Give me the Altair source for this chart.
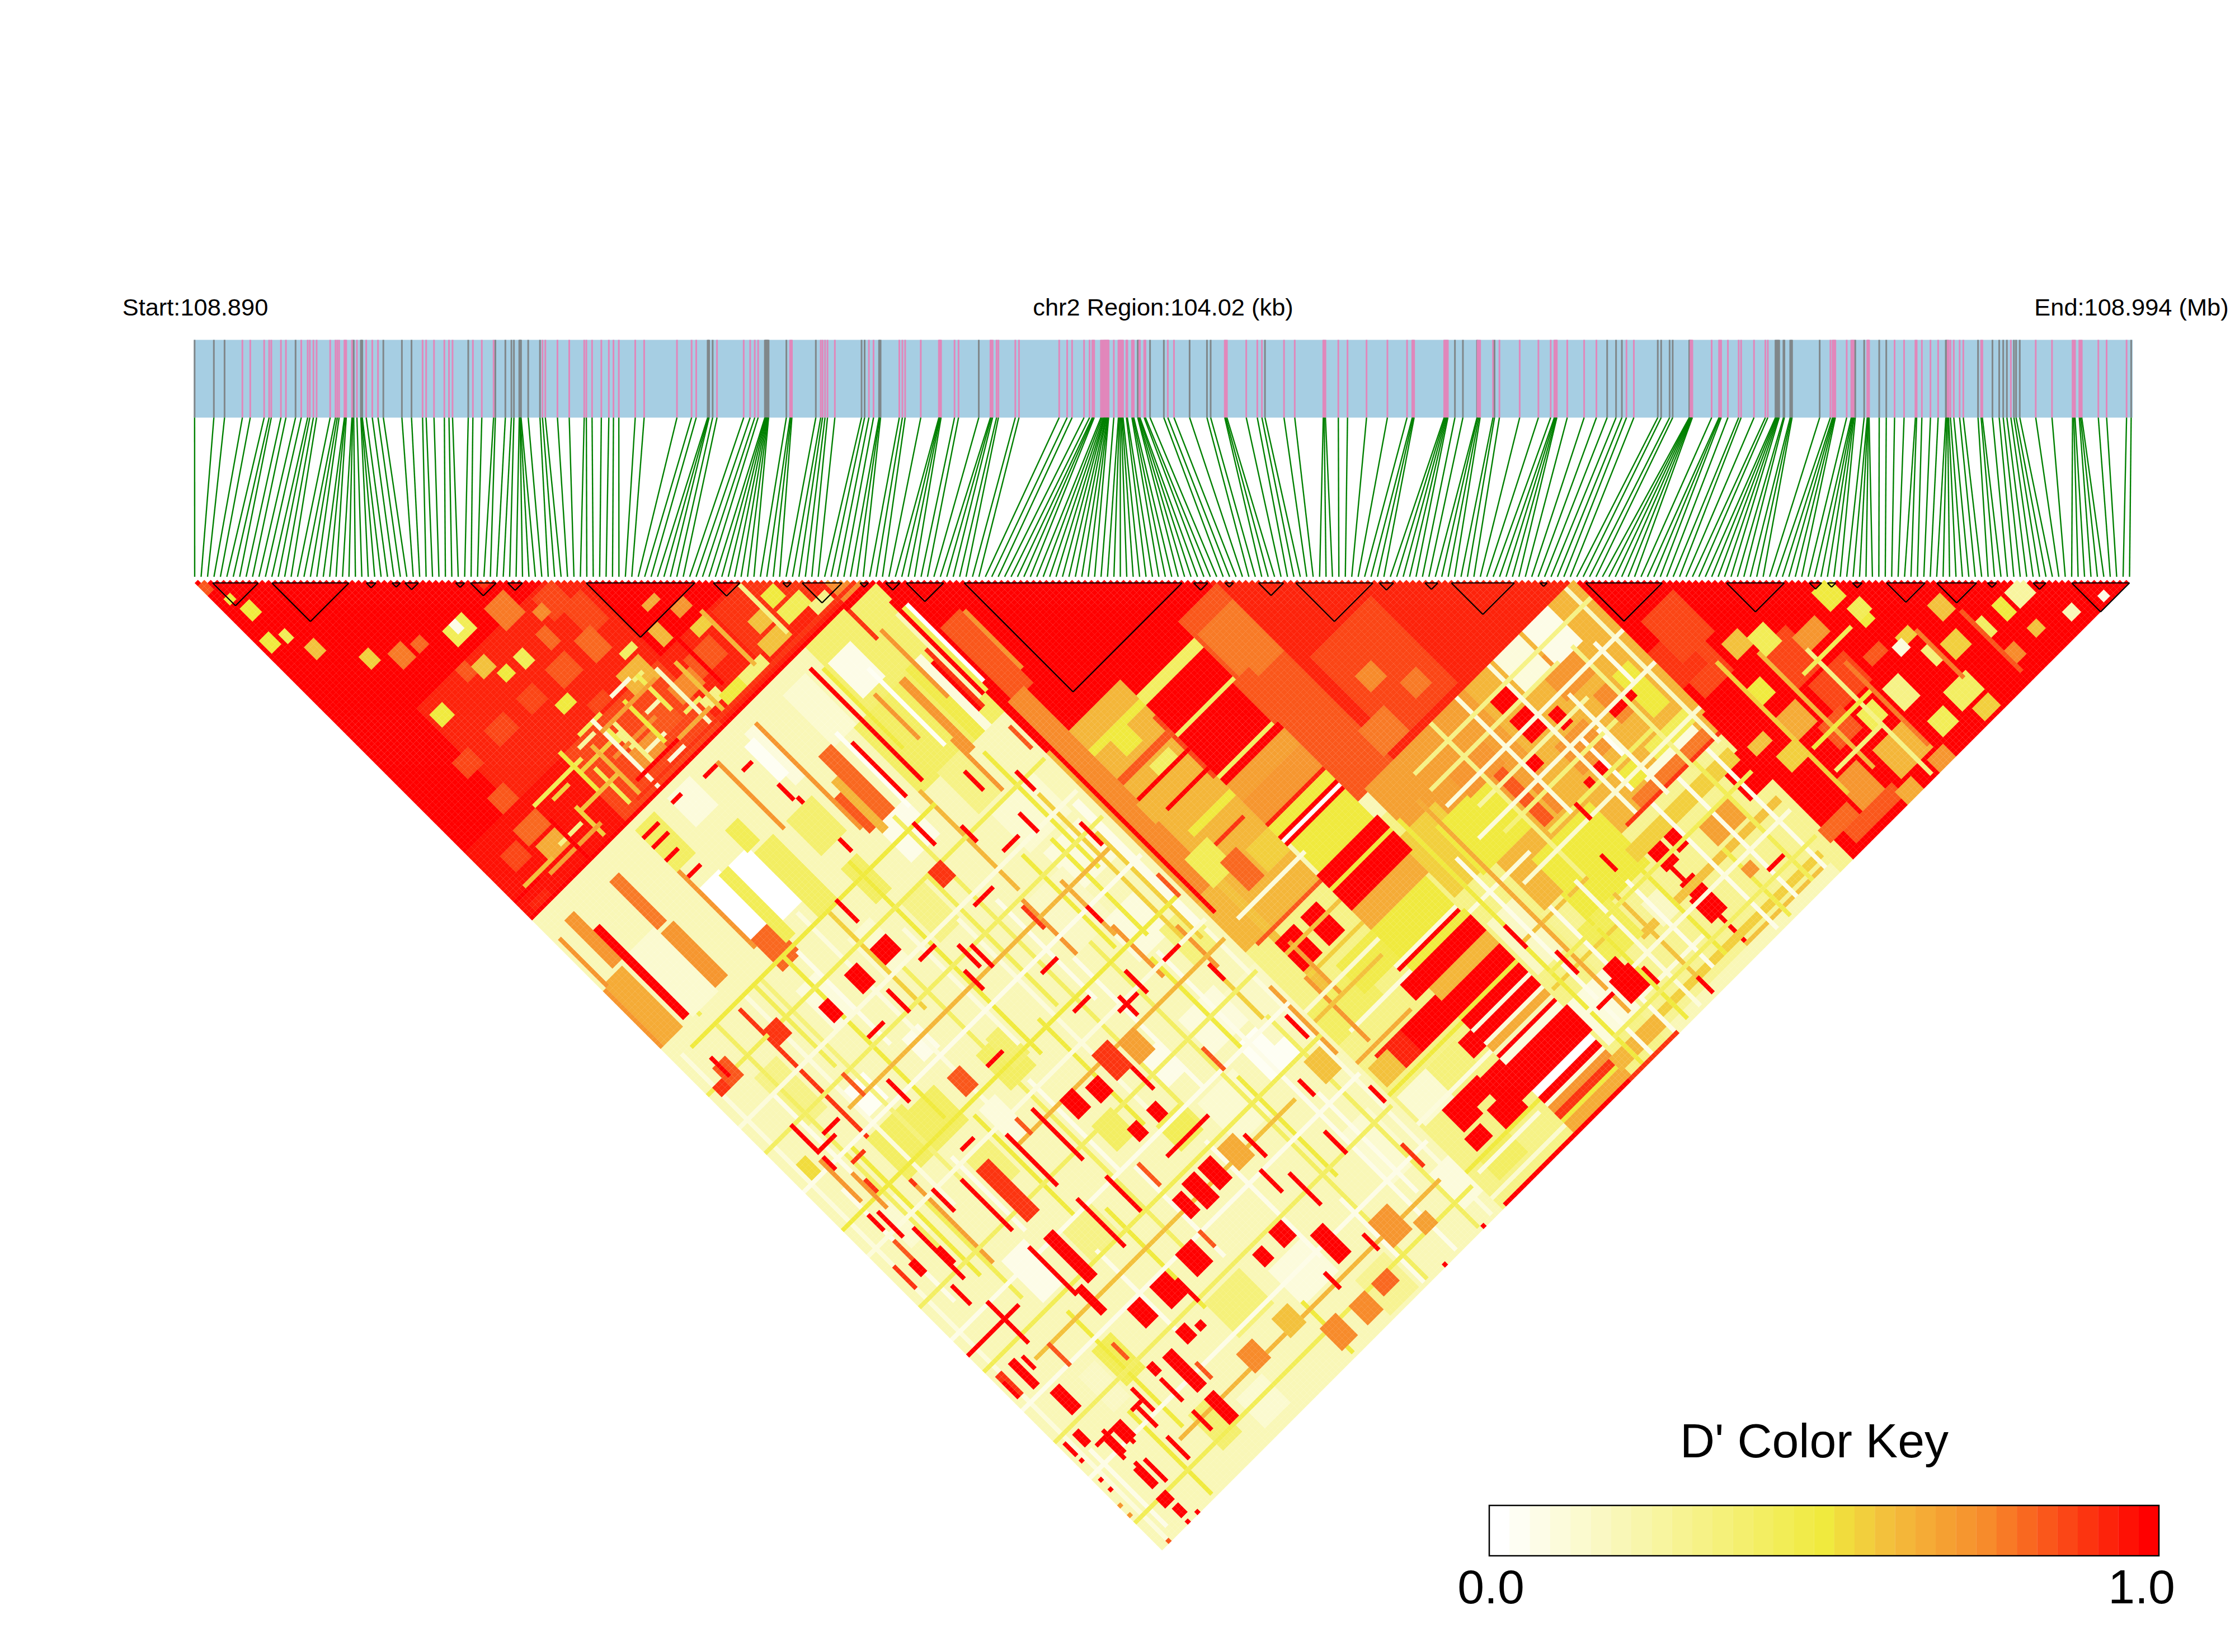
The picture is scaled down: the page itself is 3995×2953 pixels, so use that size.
import numpy as np
import pandas as pd
import altair as alt

z4_grey=[75,129,159,358,521,541,543,545,604,656,683,842,918,946,963,970,985,987,988,990,1010,1043,1513,1515,1517,1527]
z4_pink=[209,231,270,284,290,317,331,374,392,398,408,417,455,470,475,480,495,497,500,516,518,530,556,573,589,714,724,746,775,788,798,855,880,913,1050,1058,1092,1125,1167,1173,1189,1215,1236,1249,1264,1310,1335,1427,1468,1481]
z5_grey=[159,161,163,165,167,169,171,229,325,474,484,531,533,536,856,1374,1376,1414,1459,1543]
z5_pink=[3,90,111,126,137,241,244,247,341,347,355,363,387,498,513,597,607,616,667,726,728,730,733,777,790,894,897,901,914,920,975,987,1118,1144,1160,1199,1217,1226,1229,1232,1254,1258,1262,1265,1267,1270,1272,1275,1277,1279,1296,1311,1314,1317,1320,1323,1326,1337,1340,1355,1358,1361,1379,1381,1395,1399,1472,1492]
z6_grey=[50,62,239,858,884,930,987,1354,1383,1402,1519,1530]
z6_pink=[108,111,115,178,214,229,301,336,429,432,436,478,508,570,638,702,719,722,725,823,826,829,832,835,932,936,940,982,1003,1069,1130,1170,1182,1185,1188,1190,1224,1279,1319,1417,1441]
z7_grey=[8,18,72,74,353,356,359,362,365,379,382,401,404,407,497,613,642,691,714,908,911,1013,1060,1082,1095,1107,1130,1137,1149,1512]
z7_pink=[76,78,80,82,145,169,172,176,198,233,241,283,320,328,532,539,542,545,548,585,600,603,606,609,652,654,656,658,741,772,809,813,830,858,883,914,917,923,934,953,965,1023,1027,1120,1201,1254,1321,1325,1329,1343,1347,1351,1405,1432,1497]

# ---- LD blocks (first and last marker of each outlined triangle)
block_start=[2.8,12,26.7,30.7,32.7,40.6,42.9,48.7,60.9,80.7,91.5,94.5,103.5,107.5,110.7,119.7,155.4,160.3,165.5,171.3,184.3,191.4,195.5,209.3,216.4,238.3,251.2,254,257.9,263.2,271,278.9,286,292]
block_end=[9.9,24,28.2,32,34.8,42,46.9,51,77.8,84.8,92.8,100.7,104.8,109.7,116.5,153.6,157.6,161.6,169.4,183.3,186.5,193.4,205.3,210.4,228.3,247.3,253.1,255.3,259.4,269.2,277.2,280.3,288,301]

# ---- D' matrix, as regions (i0,i1,j0,j1,value), painted in order
base_regions=[
(0,301,0,301,.2),(0,105,0,105,1),(214,301,214,301,1),(106,158,106,160,1),(158,214,158,215,.95),
(106,128,160,222,.62),(146,158,160,215,.84),(158,214,215,262,.62),(106,158,222,301,.3),(158,214,262,301,.27),
(165,182,252,270,.5),(80,105,126,146,.4),(85,105,106,125,.36),(129,146,160,205,.72),(150,180,215,240,.68),
(147,158,228,245,.55),(155,170,232,246,.5),(15,60,55,85,.95),(0,30,85,104,.97),(30,60,85,104,.86),(60,105,85,105,.93),
]
mottle_regions=[
(31,36,47,51,.45),(33,34,47,49,.05),(41,46,50,56,.78),(50,55,56,62,.88),(53,58,62,70,.88),(50,54,69,75,.8),
(41,46,69,74,.85),(32,36,69,73,.88),(22,27,69,73,.86),(12,16,69,73,.86),(12,16,80,84,.85),(11,17,89,93,.8),
(12,17,95,99,.66),(5,9,91,95,.88),(41,47,95,99,.72),(51,57,81,87,.62),(64,71,89,94,.84),(57,63,91,95,.76),
(49,54,91,97,.84),(42,46,81,83,.88),(76,94,86,99,.9),(80,83,93,96,.6),(86,89,91,94,.5),(70,73,79,81,.72),
(70,73,85,87,.55),(63,65,79,83,.62),(1,3,20,23,.5),(3,5,12,15,.5),(5,6,22,24,.45),(7,9,28,31,.6),(0,1,2,4,.85),
(2,3,8,9,.5),(14,16,38,41,.55),(19,22,42,46,.78),(24,26,44,46,.8),(30,33,57,60,.6),(33,35,62,64,.5),(38,40,62,65,.45),
(48,50,58,60,.75),(45,47,62,66,.8),(37,40,76,78,.5),(16,19,58,61,.5),(27,29,55,58,.85),(40,41,88,91,.45),(42,43,90,94,.3),
(47,52,83,83,.08),(53,55,84,84,.35),(55,58,78,79,.4),(50,53,91,91,.2),(44,49,97,97,.15),(56,60,97,97,.4),(34,38,86,86,.25),
(28,32,88,88,.45),(22,26,90,90,.55),(16,22,98,98,.3),(36,42,103,103,.35),(46,50,102,103,.1),(52,58,103,103,.2),
(60,64,98,100,.3),(64,70,100,102,.5),(70,76,100,103,.35),(78,84,98,101,.6),(86,92,96,99,.45),(92,96,100,103,.3),(96,100,92,95,.5),
(98,104,98,104,.75),(90,94,90,92,.95),(72,76,70,72,.85),(66,69,74,75,.65),
(36,42,84,84,.45),(38,50,93,93,.75),(30,40,90,90,.55),(18,30,88,88,.45),(30,30,84,95,.5),(33,33,92,102,.45),(43,43,88,100,.3),(48,48,86,98,.5),(54,54,84,94,.45),(66,66,84,98,1),
(24,24,95,103,.55),(36,36,88,102,.62),(40,40,84,104,.08),(58,58,86,102,.15),(62,62,88,102,.6),(74,74,84,100,.62),(84,84,86,100,.3),(50,60,100,100,.65),(40,56,87,87,.7),(25,35,96,96,.6),(10,25,101,101,.7),(4,12,99,99,.6),
(90,100,62,62,.8),(80,86,64,66,.85),(68,76,58,60,.88),(58,62,50,54,.9),(44,50,44,46,.9),(86,92,76,78,.78),(94,100,80,82,.72),(82,84,70,74,.6),
]
# long i-lines and j-lines, reds and oranges (dominant stripes of the plaid)
stripes=[
(0,1,128,146,.72),(1,6,127,146,.66),(8,9,117,144,1),(5,7,111,125,.72),(1,1,113,127,.72),(18,20,112,126,.78),(18,21,128,144,.72),
(10,11,128,146,.45),(60,60,128,144,1),(82,82,110,144,1),(70,73,125,145,.82),(65,65,110,142,.72),(66,67,134,144,.85),(77,77,128,144,1),
(53,53,110,130,.72),(30,30,110,144,.72),(31,36,143,152,.8),(94,95,126,147,.72),(97,99,125,146,.48),(100,101,125,146,.08),(102,102,128,142,1),
(103,103,125,142,.9),(104,104,115,140,.2),(105,105,112,140,1),(106,106,115,140,.45),(107,107,115,138,0),
(109,114,124,146,.85),(115,115,125,142,.72),(108,112,146,205,.74),(107,107,146,210,1),(112,113,205,240,.6),(18,18,152,207,.92),(18,18,207,230,.7),
(128,128,171,189,.88),(113,128,187,187,1),(113,128,181,181,1),(113,128,175,176,.85),(113,128,166,167,.5),(116,128,194,195,.5),(116,126,200,200,.9),
(118,122,168,172,.5),(120,125,178,180,.4),(112,115,182,187,.62),(111,117,198,206,.45),(116,120,204,212,.8),(122,128,206,212,.55),
(129,146,158,164,1),(129,146,165,167,.42),(129,146,168,176,1),(129,146,177,177,.42),(129,146,178,189,1),(129,146,190,190,.42),(129,146,191,192,1),
(129,146,193,197,.68),(129,146,198,204,.72),(129,146,205,205,.95),(129,146,206,208,.5),(129,146,209,209,1),(129,146,210,210,0),(129,146,211,211,1),
(130,146,212,220,.5),(129,147,221,224,1),(129,147,225,225,.5),(129,147,226,231,1),(129,146,232,237,.66),(127,145,238,246,.5),(127,145,247,247,.08),(127,145,248,248,1),
(129,146,249,250,.5),(129,146,251,255,1),(129,146,256,259,.62),(129,146,260,264,1),(129,146,265,265,.5),(129,146,266,268,1),(129,146,269,269,.08),(129,146,270,272,1),
(129,146,273,273,.08),(129,146,274,275,.65),(129,146,276,276,.2),(129,146,277,277,1),(129,146,278,279,.1),(129,147,280,287,1),(129,146,288,289,0),(129,146,290,291,1),(129,146,292,292,.1),
(129,146,293,294,.72),(129,146,295,296,.9),(129,146,297,297,.5),(129,146,298,300,.66),(129,146,301,301,1),
(117,125,258,264,1),(110,117,258,264,.95),(122,128,278,283,1),(112,117,277,283,1),(111,115,285,288,1),(119,125,284,289,1),(125,128,284,287,1),(118,122,277,281,1),
(125,128,251,255,1),(125,128,258,264,1),(125,128,269,273,1),(120,124,225,233,1),(112,117,225,233,1),(107,128,301,301,1),(146,160,301,301,.9),(146,160,295,298,.62),
(148,158,165,180,.78),(146,150,178,190,.85),(162,180,186,212,.87),(166,170,196,200,.76),(172,176,204,208,.78),
(214,223,256,266,1),(208,216,267,276,1),(215,222,281,290,1),(185,213,261,261,.9),(190,212,258,260,.78),(185,185,270,301,1),(183,187,283,289,1),(184,187,279,283,1),(184,187,269,274,1),
(189,191,269,273,1),(183,188,227,233,1),(183,187,220,225,1),(185,186,248,249,1),(189,191,247,249,1),(192,210,230,250,.62),(195,203,222,232,.72),(199,206,215,225,.05),(190,197,215,225,.1),
(196,204,272,278,.7),(195,210,256,257,.08),(200,212,252,255,.45),(180,212,265,268,.55),(170,212,280,281,.6),(160,210,295,296,.55),(175,180,276,282,.15),(160,170,270,280,.45),
(176,178,240,248,.75),(172,174,228,248,.85),(186,194,238,246,.72),(200,204,236,244,.75),(206,210,236,248,.5),(192,196,252,256,.5),(200,206,240,242,1),(179,181,235,238,1),(190,192,232,236,1),
]
right_regions=[
(250,254,254,259,.5),(233,240,255,266,.88),(235,245,268,276,.88),(255,261,290,295,.4),(235,244,288,296,.62),(257,261,297,300,.55),(224,230,287,295,.72),
(217,225,245,253,.88),(215,222,238,248,.9),(219,228,232,244,.88),(256,259,274,276,.55),(266,269,274,278,.6),(270,273,293,296,.75),(278,280,293,295,.6),(253,255,265,267,.5),
(233,237,251,256,.45),(228,232,248,252,.6),(224,230,268,274,.65),(253,256,262,265,.45),(254,256,275,277,.1),(230,236,276,282,.85),(240,246,258,262,.72),(216,220,268,270,.6),
(219,224,274,278,.55),(238,242,280,284,.45),(225,228,259,263,.5),(246,250,280,286,.3),(248,252,272,274,.85),(270,272,284,288,.4),(276,278,284,288,.5),(218,232,296,299,.85),(232,236,298,301,.66),
(214,222,292,295,.8),(242,246,298,301,.72),(248,252,292,296,.45),(258,260,280,284,.35),(262,266,282,286,.55),(280,284,284,288,.25),(286,288,296,298,.2),(294,295,299,300,.05),
(224,224,250,290,.55),(232,232,255,290,.62),(240,240,262,300,.3),(226,244,278,278,.5),(236,250,265,265,.45),(226,240,285,285,.35),(244,244,270,295,.78),(260,260,276,290,.78),(270,270,280,298,.85),
]
# pale field, long light bands and single light patches
pale_regions=[
(31,36,127,142,0),(39,44,128,144,0),(36,38,128,148,.45),(45,50,130,150,.42),(44,47,122,128,.45),(30,35,108,120,.42),(40,46,108,116,.1),(10,17,126,145,.12),(0,10,146,156,.2),
(22,27,181,188,.02),(39,43,182,188,.05),(18,28,192,204,.4),(28,36,194,204,.42),(48,55,196,206,.42),(2,5,185,190,.52),(20,26,232,244,.05),(34,42,236,246,.3),(65,71,235,242,.45),
(68,76,145,155,.05),(88,100,160,172,.12),(90,100,175,186,.1),(80,90,180,195,.15),(88,98,195,206,.1),(90,98,235,245,.03),(85,95,222,232,.1),(72,78,222,230,.05),(52,56,195,203,.38),
(55,62,130,140,.38),(62,64,110,125,.1),(74,80,110,125,.14),(86,92,112,122,.06),(86,92,146,158,.3),(56,60,146,156,.42),(46,52,158,170,.12),(60,66,160,172,.32),(30,36,158,170,.08),(10,16,165,180,.3),
(40,44,205,215,.1),(30,36,210,220,.35),(8,14,205,215,.12),(55,60,225,232,.4),(75,85,238,250,.12),(96,103,205,215,.35),(96,105,225,240,.15),(80,88,255,270,.2),(60,70,275,285,.1),(45,55,270,280,.35),
(20,25,260,270,.45),(14,18,262,272,.15),(25,30,285,295,.38),(35,42,290,298,.12),(72,80,290,300,.28),(92,100,265,280,.12),(100,105,285,295,.1),(110,118,290,296,.42),(148,156,255,270,.15),(106,120,240,250,.4),
(118,128,238,246,.46),(107,115,268,276,.12),(116,124,268,275,.35),(148,158,280,292,.1),(165,175,225,232,.72),(158,165,205,212,.78),
(17,17,210,240,.45),(60,62,112,122,.02),(36,36,152,180,.05),(24,24,150,175,.45),(47,47,150,180,.55),(56,56,165,200,.08),(68,68,160,200,.45),(75,75,175,205,.06),(86,86,172,200,.5),(96,96,150,185,.5),(102,103,172,210,.05),
(14,14,190,230,.5),(28,28,208,230,.06),(38,38,205,235,.5),(52,52,208,235,.06),(63,63,200,232,.5),(78,78,196,236,.06),(90,90,208,235,.5),(6,6,196,230,.06),(10,10,170,205,.06),
(44,44,240,270,.5),(55,55,238,265,.06),(70,70,245,280,.06),(85,85,240,270,.5),(95,95,255,285,.06),(22,22,250,285,.5),(36,36,245,270,.06),(16,16,275,300,.5),(4,4,275,298,.06),(60,60,285,300,.5),(82,82,275,300,.06),
(110,130,215,215,.08),(112,128,235,235,.55),(110,128,250,250,.08),(108,126,292,292,.08),(150,170,263,263,.6),(160,180,290,290,.08),(147,165,250,250,.08),(148,168,275,275,.55),(160,180,225,225,.3),(165,190,235,235,.25),
]
# thin plaid lines across the light field
plaid_lines=[
(88,88,124,137,.72),(97,97,105,115,.9),(99,99,115,135,.72),(91,91,119,142,.02),(84,84,112,136,.5),(76,76,124,146,.02),(68,69,131,146,.62),(93,93,143,158,.72),(98,98,165,209,.55),(93,93,174,203,.5),
(106,106,169,206,.66),(101,101,180,212,.55),(79,79,178,195,.72),(88,88,182,198,.66),(89,89,197,212,.72),(98,98,220,234,.55),(99,99,207,219,.72),(114,114,227,243,.7),(111,111,235,254,.72),(104,104,231,251,.7),
(109,128,222,222,.85),(112,128,228,228,.6),(106,126,243,243,.6),(106,122,256,256,.66),(191,191,240,256,.02),(208,208,228,240,.05),(195,195,242,250,.03),(175,199,225,225,.3),(173,198,235,235,.25),(165,199,243,243,.35),(172,204,250,250,.4),
(161,210,299,301,.2),(185,209,298,298,.6),(170,170,215,262,.3),(178,178,215,250,.08),(188,188,215,260,.1),(196,196,232,262,.08),(204,204,225,262,.3),(212,212,215,262,.15),(160,214,220,220,.3),(160,214,230,230,.1),(160,214,240,240,.1),(160,214,254,254,.12),
(150,150,225,300,.5),(153,153,240,300,.06),(156,156,225,290,.66),(160,160,262,300,.06),(164,164,262,300,.5),(168,168,262,300,.08),(172,172,270,296,.6),(176,176,270,296,.06),(180,180,262,296,.5),(192,192,262,300,.06),(196,196,280,300,.48),(200,200,262,298,.05),(205,205,262,298,.45),(209,209,262,298,.06),
(150,212,272,272,.45),(150,212,284,284,.08),(150,212,292,292,.42),(106,128,240,240,.12),(106,128,266,266,.5),(106,128,275,275,.08),(106,128,290,290,.5),(106,128,298,298,.12),
(2,2,150,300,.1),(12,12,150,220,.42),(21,21,150,215,.08),(26,26,150,212,.35),(33,33,150,200,.5),(42,42,146,205,.08),(50,50,170,260,.42),(58,58,146,205,.5),(66,66,172,230,.08),(72,72,146,240,.42),(80,80,146,176,.62),(83,83,196,300,.42),(92,92,208,300,.06),(99,99,235,300,.42),(103,103,212,300,.08),
(0,104,160,160,.45),(0,104,170,170,.08),(0,104,178,178,.42),(0,104,190,190,.06),(0,104,202,202,.5),(0,104,210,210,.08),(0,104,226,226,.42),(0,104,236,236,.06),(0,104,246,246,.45),(0,104,258,258,.06),(0,104,268,268,.42),(0,104,279,279,.06),(0,104,293,293,.45),
(5,80,150,150,.5),(20,100,184,184,.62),(40,104,216,216,.62),(10,90,252,252,.6),(20,100,287,287,.62),
(8,8,205,212,1),(11,11,213,228,1),(8,8,228,233,1),(31,34,208,208,1),(8,8,182,186,1),(9,13,186,186,1),(8,8,188,191,1),(12,15,193,193,.9),(11,11,198,201,.9),(7,7,188,200,.72),(10,10,195,205,.72),(6,6,212,218,.85),(5,6,218,221,1),(2,2,216,222,.9),(20,20,272,278,1),
]
# short red and orange runs scattered over the pale field
red_runs=[
(30,34,113,113,1),(30,33,117,117,1),(31,34,123,123,1),(49,52,110,110,1),(56,58,115,115,1),(59,59,123,127,1),(40,42,109,109,1),(30,34,110,110,1),(38,50,100,100,1),(18,18,93,104,1),
(0,7,100,100,1),(2,6,103,104,.95),(30,32,235,248,1),(26,26,234,248,1),(27,28,248,255,1),(26,26,213,228,1),(30,33,214,229,.92),(48,48,213,228,1),(40,40,213,228,1),(41,41,234,248,1),(49,49,235,245,1),
(11,11,236,248,1),(0,15,241,241,1),(5,6,249,256,1),(1,2,249,255,.9),(7,9,260,266,1),(32,35,259,264,1),(40,41,272,273,1),(30,32,272,282,1),(30,32,285,292,1),(48,52,258,264,1),(39,43,259,265,1),
(60,63,248,255,1),(65,68,248,254,1),(56,58,249,254,1),(62,74,241,241,1),(31,33,164,168,1),(48,52,199,199,1),(40,43,195,200,.85),(5,8,157,162,.85),(6,6,155,160,1),(2,4,160,162,.9),(19,22,159,163,.9),
(48,52,163,167,1),(40,43,163,168,1),(69,72,160,164,.9),(71,76,172,172,1),(59,59,181,186,1),(79,79,209,214,1),(77,82,211,211,1),(71,75,193,193,1),(81,81,158,162,1),(66,70,214,221,.9),(72,76,216,222,.7),
(54,57,216,221,1),(60,63,218,222,1),(66,68,231,234,1),(60,62,231,234,1),(12,12,275,280,1),(11,13,276,279,1),(9,9,274,280,1),(9,9,284,290,1),(8,9,297,299,1),(8,8,301,301,1),(11,11,301,301,1),
(5,5,250,256,1),(8,8,250,253,1),(1,1,251,255,1),(26,27,271,273,1),(26,26,275,281,1),(26,26,285,290,1),(10,13,275,275,1),(6,9,275,275,1),(8,8,275,281,1),(18,18,275,281,1),(17,20,275,275,1),
(8,8,285,290,1),(11,11,285,291,1),(18,18,285,291,1),(4,5,270,273,1),(1,1,270,273,1),(1,1,275,275,1),(1,1,281,281,1),(1,1,284,284,1),(7,9,293,295,1),(0,0,288,288,.72),(2,2,301,301,.85),(0,0,291,291,.72),
(77,77,250,256,1),(78,78,263,272,1),(72,75,276,284,1),(66,69,269,273,1),(60,62,270,273,1),(158,163,283,289,1),(159,162,280,282,1),(36,38,270,273,1),(100,100,301,301,1),(88,88,301,301,1),(113,118,301,301,1),
(83,88,283,290,.72),(71,75,248,254,.65),(42,46,283,288,.75),(59,63,292,298,.75),(53,57,283,288,.6),(67,71,293,298,.75),(98,102,248,254,.6),(107,112,259,264,.6),(90,93,290,293,.7),(74,78,293,296,.8),
(54,58,172,172,1),(62,62,176,182,1),(84,88,168,168,1),(92,92,165,170,1),(98,98,158,163,1),(74,74,150,156,1),(90,90,150,155,1),(50,50,150,156,1),(44,44,172,178,1),(34,38,176,176,1),(24,24,178,184,.85),
(30,30,186,192,1),(12,16,184,184,1),(8,8,178,184,1),(70,74,204,204,1),(44,44,212,216,.85),(56,56,238,244,.85),(70,70,222,228,1),(84,84,206,212,1),(92,96,210,210,1),(100,100,176,182,1),(104,104,150,156,.85),
(64,64,178,184,1),(78,78,180,186,.9),(88,88,190,194,1),(98,98,218,222,1),(104,104,196,202,.85),(84,84,230,236,.85),(94,94,250,254,1),(102,102,238,244,1),(74,74,258,264,1),(90,90,262,268,1),(100,100,276,282,.9),
(104,104,262,266,1),(55,55,258,262,.85),(20,20,210,216,1),(12,12,220,224,1),(6,6,204,208,1),(34,34,278,282,.85),(44,44,262,268,1),(24,24,262,266,.85),(14,14,252,258,.85),(68,68,284,288,1),(80,80,284,288,1),
(150,150,258,264,1),(165,165,286,290,1),(172,172,296,300,1),(154,154,270,276,1),(176,176,262,266,1),(180,180,250,254,1),(152,156,285,285,1),(200,204,290,290,1),(196,198,286,288,.72),
]
main_lines=[(0,105,105,105,1),(97,105,106,106,1),(35,105,103,103,.9)]

N=302
steps=32
m=np.full((N,N),np.nan)
for group in (base_regions,mottle_regions,stripes,right_regions,pale_regions,plaid_lines,red_runs,main_lines):
    for i0,i1,j0,j1,val in group:
        m[i0:i1+1,j0:j1+1]=val

rows=[]
for i in range(N-1):
    for j in range(i+1,N):
        v=m[i,j]
        if v<0.02:
            continue
        rows.append(((i+j)/2,(j-i)/2,round(v*steps)/steps))
cells=pd.DataFrame(rows,columns=["x","y","v"])

# layout constants: full-page pixels to marker units
D=11.49; X0=348.0; Y0=1036.5
def ux(X): return (X-X0)/D
def uy(Y): return (Y-Y0)/D
xscale=alt.Scale(domain=[ux(8),ux(3987)],nice=False,zero=False)
yscale=alt.Scale(domain=[uy(2945),uy(8)],nice=False,zero=False)
X=lambda f:alt.X(f,type="quantitative",scale=xscale,axis=None)
Y=lambda f:alt.Y(f,type="quantitative",scale=yscale,axis=None)
colors=alt.Scale(domain=[0,.5,.6,.75,1],range=["#FFFFFF","#F0EA3E","#F3BE3C","#F78B2B","#FF0000"],interpolate="rgb")

ticks=[]
for grey,pink,x0,s in ((z4_grey,z4_pink,300,1.568),(z5_grey,z5_pink,1280,1.823),(z6_grey,z6_pink,2130,1.823),(z7_grey,z7_pink,2980,1.823)):
    ticks+=[(x0+d/s,"g") for d in grey]+[(x0+d/s,"p") for d in pink]
ticks.sort()
n=len(ticks)
ticks_df=pd.DataFrame({"x":[ux(t[0]) for t in ticks],"k":list(np.linspace(0,N-1,n)),"c":[t[1] for t in ticks],
    "y0":uy(607.5),"y1":uy(746.5),"y2":uy(1031)})

band=alt.Chart(pd.DataFrame({"x":[ux(346.5)],"x2":[ux(3812)],"y":[uy(607.5)],"y2":[uy(746.5)]})).mark_rect(color="#A6CEE3").encode(
    x=X("x"),x2="x2",y=Y("y"),y2="y2")
band_ticks=alt.Chart(ticks_df).mark_rule(strokeWidth=3).encode(x=X("x"),y=Y("y0"),y2="y1",
    color=alt.Color("c:N",legend=None,scale=alt.Scale(domain=["g","p"],range=["#80878A","#E187BB"])))
links=alt.Chart(ticks_df).mark_rule(strokeWidth=2.4,color="#008000").encode(x=X("x"),x2="k",y=Y("y1"),y2="y2")
heat=alt.Chart(cells).mark_point(shape="diamond",filled=True,size=136,opacity=1,strokeWidth=0).encode(
    x=X("x"),y=Y("y"),color=alt.Color("v:Q",scale=colors,legend=None))

tri=[]
for a,b in zip(block_start,block_end):
    mid,dep=(a+b)/2,(b-a)/2+.48
    tri+=[(a,.48,b,.48),(a,.48,mid,dep),(b,.48,mid,dep)]
tri_df=pd.DataFrame(tri,columns=["x","y","x2","y2"])
triangles=alt.Chart(tri_df).mark_rule(color="black",strokeWidth=2.2).encode(x=X("x"),x2="x2",y=Y("y"),y2="y2")

key_v=[s/32 for s in range(33)]
lx0,lx1=2662,3859
key_df=pd.DataFrame({"v":key_v,"x":[ux(lx0+(lx1-lx0)*s/33) for s in range(33)],"x2":[ux(lx0+(lx1-lx0)*(s+1)/33)+.02 for s in range(33)],
    "y":uy(2691),"y2":uy(2781)})
key=alt.Chart(key_df).mark_rect().encode(x=X("x"),x2="x2",y=Y("y"),y2="y2",color=alt.Color("v:Q",scale=colors,legend=None))
key_box=alt.Chart(pd.DataFrame({"x":[ux(lx0)],"x2":[ux(lx1)],"y":[uy(2691)],"y2":[uy(2781)]})).mark_rect(fill=None,stroke="black",strokeWidth=2.5).encode(
    x=X("x"),x2="x2",y=Y("y"),y2="y2")

def label(txt,X_,Y_,size):
    return alt.Chart(pd.DataFrame({"x":[ux(X_)],"y":[uy(Y_)],"t":[txt]})).mark_text(
        font="Liberation Sans",fontSize=size,align="center",baseline="alphabetic",color="black").encode(x=X("x"),y=Y("y"),text="t:N")
texts=[label("Start:108.890",349,564,43.4),label("chr2 Region:104.02 (kb)",2079,564,43.4),label("End:108.994 (Mb)",3810,564,43.4),
       label("D' Color Key",3243,2605,86),label("0.0",2665,2866,86),label("1.0",3828,2866,86)]

chart=alt.layer(band,band_ticks,links,heat,triangles,key,key_box,*texts).properties(width=3979,height=2937,padding=0).configure_view(stroke=None)
chart.save("out.html",embed_options={"renderer":"svg","actions":False})
